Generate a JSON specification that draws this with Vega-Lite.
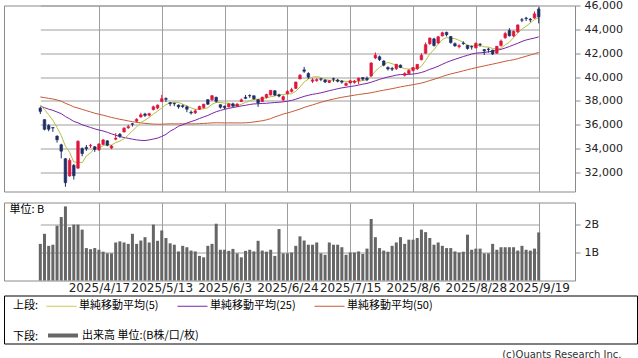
{
"$schema": "https://vega.github.io/schema/vega-lite/v6.json",
"padding": {"left": 3, "top": -1.5, "right": 0, "bottom": 0},
"background": "white",
"title": {"text": "(c)Quants Research Inc.", "orient": "bottom", "anchor": "end", "fontSize": 10, "fontWeight": "normal", "font": "DejaVu Sans", "color": "#333", "offset": 6, "dx": -16},
"datasets": {"k": [
{"d":"2025/3/28","o":37400,"h":37500,"l":36900,"c":37120,"v":1.31,"m5":37667,"m25":37554,"m50":38328},
{"d":"2025/3/31","o":36430,"h":36450,"l":35530,"c":35617,"v":1.67,"m5":37269,"m25":37432,"m50":38272},
{"d":"2025/4/1","o":35930,"h":36050,"l":35450,"c":35624,"v":1.24,"m5":36837,"m25":37306,"m50":38213},
{"d":"2025/4/2","o":35760,"h":35800,"l":35400,"c":35725,"v":1.28,"m5":36377,"m25":37205,"m50":38158},
{"d":"2025/4/3","o":35050,"h":35100,"l":34500,"c":34735,"v":1.96,"m5":35764,"m25":37069,"m50":38075},
{"d":"2025/4/4","o":34320,"h":34400,"l":33180,"c":33780,"v":2.27,"m5":35096,"m25":36930,"m50":37970},
{"d":"2025/4/7","o":33150,"h":33200,"l":30792,"c":31136,"v":2.65,"m5":34200,"m25":36689,"m50":37800},
{"d":"2025/4/8","o":31700,"h":33200,"l":31650,"c":33012,"v":1.91,"m5":33678,"m25":36498,"m50":37661},
{"d":"2025/4/9","o":32600,"h":32700,"l":31400,"c":31714,"v":2.0,"m5":32875,"m25":36274,"m50":37497},
{"d":"2025/4/10","o":32360,"h":34700,"l":32300,"c":34609,"v":2.0,"m5":32850,"m25":36161,"m50":37398},
{"d":"2025/4/11","o":34000,"h":34100,"l":33350,"c":33585,"v":1.82,"m5":32811,"m25":35996,"m50":37289},
{"d":"2025/4/14","o":34100,"h":34300,"l":33800,"c":33982,"v":1.16,"m5":33380,"m25":35880,"m50":37181},
{"d":"2025/4/15","o":34230,"h":34400,"l":34050,"c":34267,"v":1.12,"m5":33631,"m25":35770,"m50":37076},
{"d":"2025/4/16","o":34150,"h":34200,"l":33720,"c":33920,"v":1.16,"m5":34073,"m25":35655,"m50":36963},
{"d":"2025/4/17","o":33900,"h":34450,"l":33800,"c":34377,"v":1.10,"m5":34026,"m25":35557,"m50":36880},
{"d":"2025/4/18","o":34350,"h":34780,"l":34300,"c":34730,"v":1.03,"m5":34255,"m25":35475,"m50":36798},
{"d":"2025/4/21","o":34650,"h":34700,"l":34200,"c":34280,"v":0.97,"m5":34315,"m25":35364,"m50":36707},
{"d":"2025/4/22","o":34050,"h":34300,"l":33950,"c":34220,"v":0.97,"m5":34305,"m25":35237,"m50":36610},
{"d":"2025/4/23","o":34790,"h":35300,"l":34700,"c":34868,"v":1.36,"m5":34495,"m25":35118,"m50":36532},
{"d":"2025/4/24","o":35200,"h":35300,"l":34900,"c":35039,"v":1.40,"m5":34627,"m25":35009,"m50":36457},
{"d":"2025/4/25","o":35400,"h":35800,"l":35350,"c":35705,"v":1.36,"m5":34822,"m25":34930,"m50":36392},
{"d":"2025/4/28","o":35750,"h":36000,"l":35650,"c":35839,"v":1.31,"m5":35134,"m25":34860,"m50":36319},
{"d":"2025/4/30","o":36080,"h":36150,"l":35850,"c":36045,"v":1.67,"m5":35499,"m25":34790,"m50":36257},
{"d":"2025/5/1","o":36300,"h":36550,"l":36200,"c":36452,"v":1.31,"m5":35816,"m25":34727,"m50":36203},
{"d":"2025/5/2","o":36650,"h":37000,"l":36600,"c":36830,"v":1.43,"m5":36174,"m25":34688,"m50":36154},
{"d":"2025/5/7","o":36900,"h":37000,"l":36650,"c":36780,"v":1.55,"m5":36389,"m25":34675,"m50":36116},
{"d":"2025/5/8","o":36800,"h":37000,"l":36700,"c":36928,"v":1.36,"m5":36607,"m25":34727,"m50":36081},
{"d":"2025/5/9","o":37270,"h":37600,"l":37200,"c":37503,"v":2.0,"m5":36899,"m25":34802,"m50":36056},
{"d":"2025/5/12","o":37400,"h":37700,"l":37300,"c":37644,"v":1.42,"m5":37137,"m25":34879,"m50":36044},
{"d":"2025/5/13","o":37950,"h":38500,"l":37900,"c":38183,"v":1.79,"m5":37408,"m25":35017,"m50":36045},
{"d":"2025/5/14","o":38200,"h":38300,"l":37900,"c":38128,"v":1.52,"m5":37677,"m25":35191,"m50":36062},
{"d":"2025/5/15","o":37850,"h":37900,"l":37550,"c":37755,"v":1.33,"m5":37843,"m25":35456,"m50":36074},
{"d":"2025/5/16","o":37800,"h":37850,"l":37550,"c":37753,"v":1.28,"m5":37893,"m25":35645,"m50":36073},
{"d":"2025/5/19","o":37650,"h":37700,"l":37350,"c":37498,"v":1.04,"m5":37863,"m25":35877,"m50":36076},
{"d":"2025/5/20","o":37600,"h":37700,"l":37400,"c":37529,"v":1.24,"m5":37733,"m25":35994,"m50":36078},
{"d":"2025/5/21","o":37500,"h":37600,"l":37050,"c":37299,"v":1.19,"m5":37567,"m25":36142,"m50":36070},
{"d":"2025/5/22","o":37050,"h":37200,"l":36850,"c":36985,"v":1.07,"m5":37413,"m25":36262,"m50":36072},
{"d":"2025/5/23","o":37000,"h":37300,"l":36900,"c":37160,"v":1.04,"m5":37294,"m25":36378,"m50":36075},
{"d":"2025/5/26","o":37300,"h":37600,"l":37250,"c":37531,"v":0.88,"m5":37301,"m25":36522,"m50":36090},
{"d":"2025/5/27","o":37450,"h":37750,"l":37350,"c":37724,"v":0.83,"m5":37340,"m25":36656,"m50":36108},
{"d":"2025/5/28","o":38100,"h":38150,"l":37650,"c":37722,"v":1.24,"m5":37424,"m25":36776,"m50":36126},
{"d":"2025/5/29","o":38100,"h":38500,"l":38000,"c":38432,"v":1.31,"m5":37714,"m25":36942,"m50":36154},
{"d":"2025/5/30","o":38300,"h":38350,"l":37850,"c":37965,"v":2.03,"m5":37875,"m25":37092,"m50":36165},
{"d":"2025/6/2","o":37680,"h":37700,"l":37350,"c":37470,"v":1.10,"m5":37863,"m25":37196,"m50":36157},
{"d":"2025/6/3","o":37550,"h":37600,"l":37300,"c":37446,"v":1.10,"m5":37807,"m25":37292,"m50":36151},
{"d":"2025/6/4","o":37500,"h":37800,"l":37450,"c":37747,"v":1.06,"m5":37812,"m25":37374,"m50":36153},
{"d":"2025/6/5","o":37750,"h":37850,"l":37500,"c":37554,"v":1.13,"m5":37636,"m25":37443,"m50":36152},
{"d":"2025/6/6","o":37550,"h":37800,"l":37500,"c":37741,"v":0.97,"m5":37592,"m25":37510,"m50":36151},
{"d":"2025/6/9","o":37950,"h":38200,"l":37900,"c":38088,"v":0.83,"m5":37715,"m25":37576,"m50":36152},
{"d":"2025/6/10","o":38300,"h":38500,"l":38150,"c":38211,"v":1.06,"m5":37868,"m25":37631,"m50":36160},
{"d":"2025/6/11","o":38450,"h":38550,"l":38250,"c":38421,"v":1.10,"m5":38003,"m25":37697,"m50":36186},
{"d":"2025/6/12","o":38430,"h":38450,"l":38100,"c":38173,"v":1.04,"m5":38127,"m25":37746,"m50":36237},
{"d":"2025/6/13","o":38100,"h":38150,"l":37500,"c":37834,"v":1.42,"m5":38145,"m25":37760,"m50":36281},
{"d":"2025/6/16","o":37950,"h":38350,"l":37900,"c":38311,"v":1.07,"m5":38190,"m25":37786,"m50":36333},
{"d":"2025/6/17","o":38300,"h":38600,"l":38200,"c":38537,"v":1.03,"m5":38255,"m25":37801,"m50":36409},
{"d":"2025/6/18","o":38500,"h":38900,"l":38450,"c":38885,"v":1.10,"m5":38348,"m25":37831,"m50":36511},
{"d":"2025/6/19","o":38850,"h":38900,"l":38400,"c":38488,"v":0.88,"m5":38411,"m25":37860,"m50":36658},
{"d":"2025/6/20","o":38500,"h":38600,"l":38300,"c":38403,"v":1.84,"m5":38525,"m25":37886,"m50":36766},
{"d":"2025/6/23","o":38100,"h":38450,"l":37950,"c":38354,"v":0.97,"m5":38533,"m25":37920,"m50":36899},
{"d":"2025/6/24","o":38600,"h":38900,"l":38550,"c":38790,"v":0.97,"m5":38584,"m25":37971,"m50":36982},
{"d":"2025/6/25","o":38800,"h":39100,"l":38700,"c":38942,"v":1.0,"m5":38595,"m25":38037,"m50":37089},
{"d":"2025/6/26","o":39050,"h":39600,"l":39000,"c":39584,"v":1.24,"m5":38815,"m25":38141,"m50":37201},
{"d":"2025/6/27","o":39850,"h":40250,"l":39800,"c":40150,"v":1.58,"m5":39164,"m25":38260,"m50":37319},
{"d":"2025/6/30","o":40600,"h":40850,"l":40350,"c":40487,"v":1.43,"m5":39591,"m25":38378,"m50":37450},
{"d":"2025/7/1","o":40300,"h":40400,"l":39850,"c":39986,"v":1.28,"m5":39830,"m25":38469,"m50":37563},
{"d":"2025/7/2","o":39650,"h":39900,"l":39500,"c":39762,"v":1.28,"m5":39994,"m25":38550,"m50":37663},
{"d":"2025/7/3","o":39700,"h":39900,"l":39600,"c":39785,"v":1.36,"m5":40034,"m25":38605,"m50":37773},
{"d":"2025/7/4","o":39850,"h":39900,"l":39650,"c":39810,"v":0.97,"m5":39966,"m25":38678,"m50":37885},
{"d":"2025/7/7","o":39750,"h":39800,"l":39500,"c":39587,"v":0.92,"m5":39786,"m25":38763,"m50":37980},
{"d":"2025/7/8","o":39550,"h":39750,"l":39500,"c":39688,"v":1.36,"m5":39726,"m25":38853,"m50":38072},
{"d":"2025/7/9","o":39860,"h":39950,"l":39600,"c":39821,"v":1.28,"m5":39738,"m25":38936,"m50":38155},
{"d":"2025/7/10","o":39750,"h":39850,"l":39550,"c":39646,"v":1.28,"m5":39710,"m25":39019,"m50":38231},
{"d":"2025/7/11","o":39650,"h":39750,"l":39450,"c":39569,"v":1.19,"m5":39662,"m25":39092,"m50":38301},
{"d":"2025/7/14","o":39300,"h":39550,"l":39250,"c":39459,"v":0.92,"m5":39637,"m25":39147,"m50":38362},
{"d":"2025/7/15","o":39500,"h":39750,"l":39450,"c":39678,"v":1.0,"m5":39635,"m25":39206,"m50":38419},
{"d":"2025/7/16","o":39550,"h":39750,"l":39450,"c":39663,"v":1.0,"m5":39603,"m25":39256,"m50":38476},
{"d":"2025/7/17","o":39700,"h":39950,"l":39400,"c":39901,"v":1.04,"m5":39654,"m25":39325,"m50":38536},
{"d":"2025/7/18","o":39950,"h":40000,"l":39700,"c":39819,"v":0.95,"m5":39704,"m25":39404,"m50":38582},
{"d":"2025/7/22","o":39900,"h":40050,"l":39650,"c":39774,"v":1.14,"m5":39767,"m25":39463,"m50":38625},
{"d":"2025/7/23","o":40100,"h":41250,"l":40000,"c":41171,"v":2.2,"m5":40066,"m25":39568,"m50":38684},
{"d":"2025/7/24","o":41600,"h":42065,"l":41500,"c":41826,"v":1.55,"m5":40498,"m25":39686,"m50":38758},
{"d":"2025/7/25","o":41700,"h":41800,"l":41350,"c":41456,"v":1.16,"m5":40809,"m25":39804,"m50":38832},
{"d":"2025/7/28","o":41350,"h":41400,"l":40900,"c":40998,"v":1.07,"m5":41045,"m25":39908,"m50":38897},
{"d":"2025/7/29","o":40800,"h":40900,"l":40550,"c":40674,"v":1.03,"m5":41225,"m25":40001,"m50":38961},
{"d":"2025/7/30","o":40720,"h":40850,"l":40500,"c":40654,"v":1.24,"m5":41122,"m25":40076,"m50":39023},
{"d":"2025/7/31","o":40700,"h":41100,"l":40600,"c":41069,"v":1.36,"m5":40970,"m25":40161,"m50":39099},
{"d":"2025/8/1","o":41000,"h":41050,"l":40750,"c":40799,"v":1.55,"m5":40839,"m25":40209,"m50":39175},
{"d":"2025/8/4","o":40150,"h":40400,"l":40050,"c":40290,"v":1.31,"m5":40697,"m25":40215,"m50":39238},
{"d":"2025/8/5","o":40300,"h":40650,"l":40250,"c":40549,"v":1.46,"m5":40672,"m25":40217,"m50":39298},
{"d":"2025/8/6","o":40550,"h":40850,"l":40450,"c":40794,"v":1.46,"m5":40700,"m25":40250,"m50":39359},
{"d":"2025/8/7","o":40700,"h":41100,"l":40600,"c":41059,"v":1.52,"m5":40698,"m25":40302,"m50":39426},
{"d":"2025/8/8","o":41450,"h":42000,"l":41400,"c":41820,"v":1.82,"m5":40902,"m25":40383,"m50":39494},
{"d":"2025/8/12","o":42000,"h":42900,"l":41950,"c":42718,"v":1.73,"m5":41388,"m25":40499,"m50":39589},
{"d":"2025/8/13","o":42800,"h":43300,"l":42700,"c":43274,"v":1.52,"m5":41933,"m25":40647,"m50":39705},
{"d":"2025/8/14","o":43200,"h":43300,"l":42550,"c":42649,"v":1.28,"m5":42304,"m25":40765,"m50":39809},
{"d":"2025/8/15","o":42850,"h":43450,"l":42800,"c":43378,"v":1.36,"m5":42768,"m25":40907,"m50":39922},
{"d":"2025/8/18","o":43450,"h":43800,"l":43400,"c":43714,"v":1.24,"m5":43147,"m25":41070,"m50":40045},
{"d":"2025/8/19","o":43750,"h":43800,"l":43400,"c":43546,"v":1.16,"m5":43312,"m25":41229,"m50":40161},
{"d":"2025/8/20","o":43400,"h":43450,"l":42800,"c":42888,"v":1.16,"m5":43235,"m25":41366,"m50":40257},
{"d":"2025/8/21","o":42800,"h":42900,"l":42550,"c":42610,"v":1.04,"m5":43227,"m25":41484,"m50":40345},
{"d":"2025/8/22","o":42550,"h":42750,"l":42400,"c":42633,"v":1.0,"m5":43078,"m25":41603,"m50":40429},
{"d":"2025/8/25","o":42850,"h":43000,"l":42700,"c":42807,"v":1.03,"m5":42897,"m25":41719,"m50":40522},
{"d":"2025/8/26","o":42650,"h":42700,"l":42300,"c":42394,"v":1.64,"m5":42666,"m25":41822,"m50":40613},
{"d":"2025/8/27","o":42550,"h":42650,"l":42300,"c":42520,"v":1.10,"m5":42593,"m25":41932,"m50":40697},
{"d":"2025/8/28","o":42450,"h":42900,"l":42400,"c":42828,"v":1.14,"m5":42636,"m25":41998,"m50":40783},
{"d":"2025/8/29","o":42750,"h":42850,"l":42550,"c":42718,"v":1.14,"m5":42653,"m25":42034,"m50":40860},
{"d":"2025/9/1","o":42300,"h":42350,"l":41850,"c":42188,"v":0.97,"m5":42530,"m25":42063,"m50":40934},
{"d":"2025/9/2","o":42350,"h":42450,"l":42050,"c":42310,"v":0.97,"m5":42513,"m25":42115,"m50":41012},
{"d":"2025/9/3","o":42250,"h":42300,"l":41850,"c":41938,"v":1.31,"m5":42396,"m25":42166,"m50":41083},
{"d":"2025/9/4","o":42000,"h":42600,"l":41950,"c":42580,"v":1.10,"m5":42347,"m25":42243,"m50":41159},
{"d":"2025/9/5","o":42650,"h":43150,"l":42550,"c":43018,"v":1.19,"m5":42407,"m25":42321,"m50":41241},
{"d":"2025/9/8","o":43300,"h":43800,"l":43200,"c":43643,"v":1.19,"m5":42698,"m25":42435,"m50":41322},
{"d":"2025/9/9","o":43900,"h":44100,"l":43400,"c":43459,"v":1.19,"m5":42928,"m25":42561,"m50":41388},
{"d":"2025/9/10","o":43450,"h":43900,"l":43350,"c":43837,"v":1.19,"m5":43307,"m25":42693,"m50":41455},
{"d":"2025/9/11","o":43800,"h":44400,"l":43700,"c":44372,"v":1.07,"m5":43666,"m25":42836,"m50":41543},
{"d":"2025/9/12","o":44800,"h":44950,"l":44600,"c":44768,"v":1.24,"m5":44016,"m25":42984,"m50":41643},
{"d":"2025/9/16","o":44950,"h":45050,"l":44700,"c":44902,"v":1.10,"m5":44268,"m25":43108,"m50":41745},
{"d":"2025/9/17","o":44850,"h":44950,"l":44600,"c":44790,"v":1.07,"m5":44534,"m25":43191,"m50":41845},
{"d":"2025/9/18","o":44950,"h":45500,"l":44900,"c":45303,"v":1.14,"m5":44827,"m25":43272,"m50":41959},
{"d":"2025/9/19","o":45700,"h":45852,"l":44500,"c":45045,"v":1.72,"m5":44962,"m25":43368,"m50":42066}
]},
"vconcat": [
 {"vconcat": [
  {"width": 571, "height": 186,
   "data": {"name": "k"},
   "encoding": {"x": {"field": "d", "type": "ordinal", "sort": null, "scale": {"type": "point", "range": [36.3, 534.7], "padding": 0},
     "axis": {"values": ["2025/4/17","2025/5/13","2025/6/3","2025/6/24","2025/7/15","2025/8/6","2025/8/28","2025/9/19"], "labels": false, "ticks": false, "domain": false, "grid": true, "title": null}}},
   "layer": [
    {"mark": {"type": "line", "strokeWidth": 1, "color": "#c65a35"},
     "encoding": {"y": {"field": "m50", "type": "quantitative", "scale": {"domain": [30400, 46000], "nice": false, "zero": false},
       "axis": {"orient": "right", "values": [32000,34000,36000,38000,40000,42000,44000,46000], "labelExpr": "format(datum.value, ',')", "title": null, "grid": true, "tickSize": 5, "labelPadding": 4, "domain": false, "labelFontSize": 11}}}},
    {"mark": {"type": "line", "strokeWidth": 1, "color": "#7b24a6"},
     "encoding": {"y": {"field": "m25", "type": "quantitative", "scale": {"domain": [30400, 46000], "nice": false, "zero": false},
       "axis": {"orient": "right", "values": [32000,34000,36000,38000,40000,42000,44000,46000], "labelExpr": "format(datum.value, ',')", "title": null, "grid": true, "tickSize": 5, "labelPadding": 4, "domain": false, "labelFontSize": 11}}}},
    {"mark": {"type": "line", "strokeWidth": 1, "color": "#b5c040"},
     "encoding": {"y": {"field": "m5", "type": "quantitative", "scale": {"domain": [30400, 46000], "nice": false, "zero": false},
       "axis": {"orient": "right", "values": [32000,34000,36000,38000,40000,42000,44000,46000], "labelExpr": "format(datum.value, ',')", "title": null, "grid": true, "tickSize": 5, "labelPadding": 4, "domain": false, "labelFontSize": 11}}}},
    {"mark": {"type": "rule", "strokeWidth": 1},
     "encoding": {"y": {"field": "l", "type": "quantitative", "scale": {"domain": [30400, 46000], "nice": false, "zero": false},
       "axis": {"orient": "right", "values": [32000,34000,36000,38000,40000,42000,44000,46000], "labelExpr": "format(datum.value, ',')", "title": null, "grid": true, "tickSize": 5, "labelPadding": 4, "domain": false, "labelFontSize": 11}},
       "y2": {"field": "h"},
       "color": {"condition": {"test": "datum.c >= datum.o", "value": "#e0143c"}, "value": "#1e2f66"}}},
    {"mark": {"type": "bar", "size": 2.6, "strokeWidth": 0.6},
     "encoding": {"y": {"field": "o", "type": "quantitative", "scale": {"domain": [30400, 46000], "nice": false, "zero": false},
       "axis": {"orient": "right", "values": [32000,34000,36000,38000,40000,42000,44000,46000], "labelExpr": "format(datum.value, ',')", "title": null, "grid": true, "tickSize": 5, "labelPadding": 4, "domain": false, "labelFontSize": 11}},
       "y2": {"field": "c"},
       "color": {"condition": {"test": "datum.c >= datum.o", "value": "#e0143c"}, "value": "#1e2f66"},
       "stroke": {"condition": {"test": "datum.c >= datum.o", "value": "#e0143c"}, "value": "#1e2f66"}}}
   ]},
  {"width": 571, "height": 78,
   "data": {"name": "k"},
   "mark": {"type": "bar", "size": 3, "color": "#666666"},
   "encoding": {
    "x": {"field": "d", "type": "ordinal", "sort": null, "scale": {"type": "point", "range": [36.3, 534.7], "padding": 0},
     "axis": {"values": ["2025/4/17","2025/5/13","2025/6/3","2025/6/24","2025/7/15","2025/8/6","2025/8/28","2025/9/19"], "labelAngle": 0, "labelFontSize": 12, "labelPadding": 2, "ticks": false, "domain": false, "grid": true, "title": null, "labelOverlap": false}},
    "y": {"field": "v", "type": "quantitative", "scale": {"domain": [0, 2.79], "nice": false, "zero": true},
     "axis": {"orient": "right", "values": [1, 2], "labelExpr": "datum.value + 'B'", "grid": true, "tickSize": 5, "labelPadding": 4, "domain": false, "labelFontSize": 11,
       "title": "単位: B", "titleX": -566, "titleY": 1, "titleAngle": 0, "titleAlign": "left", "titleBaseline": "top", "titleFont": "Noto Sans CJK JP", "titleFontSize": 11, "titleFontWeight": "normal", "titleColor": "#000"}}
   }}
 ], "spacing": 9},
 {"width": 633, "height": 48,
  "view": {"stroke": "#000", "strokeWidth": 1, "fill": "white"},
  "layer": [
   {"data": {"values": [{"s": "単純移動平均(5)"}, {"s": "単純移動平均(25)"}, {"s": "単純移動平均(50)"}]},
    "mark": {"type": "point", "opacity": 0},
    "encoding": {"color": {"field": "s", "type": "nominal", "sort": null,
      "scale": {"domain": ["単純移動平均(5)", "単純移動平均(25)", "単純移動平均(50)"], "range": ["#c8cc55", "#7b24a6", "#c65a35"]},
      "legend": {"title": "上段:", "orient": "none", "legendX": 9, "legendY": 295, "direction": "horizontal", "titleOrient": "left", "titleAnchor": "middle", "titleBaseline": "middle", "titlePadding": 7,
        "symbolType": "M-3,0H3", "symbolSize": 100, "symbolOffset": 10, "symbolStrokeWidth": 1, "symbolOpacity": 1, "labelOffset": 12, "columnPadding": 16, "labelFontSize": 11, "titleFontSize": 11}}}},
   {"data": {"values": [{"s": "出来高 単位:(B株/口/枚)"}]},
    "mark": {"type": "point", "opacity": 0},
    "encoding": {"stroke": {"field": "s", "type": "nominal",
      "scale": {"range": ["#666666"]},
      "legend": {"title": "下段:", "orient": "none", "legendX": 9, "legendY": 323, "direction": "horizontal", "titleOrient": "left", "titleAnchor": "middle", "titleBaseline": "middle", "titlePadding": 7,
        "symbolType": "M-3,0H3", "symbolSize": 100, "symbolOffset": 10, "symbolStrokeWidth": 4, "symbolOpacity": 1, "labelOffset": 12, "labelFontSize": 11, "titleFontSize": 11}}}}
  ]}
],
"spacing": 0,
"config": {
 "view": {"stroke": "#8a8a8a"},
 "axis": {"gridColor": "#9e9e9e", "gridWidth": 1, "labelFont": "DejaVu Sans", "labelColor": "#222", "tickColor": "#8a8a8a"},
 "legend": {"labelFont": "Noto Sans CJK JP", "titleFont": "Noto Sans CJK JP", "labelColor": "#000", "titleColor": "#000", "titleFontWeight": "normal", "padding": 0}
}
}
